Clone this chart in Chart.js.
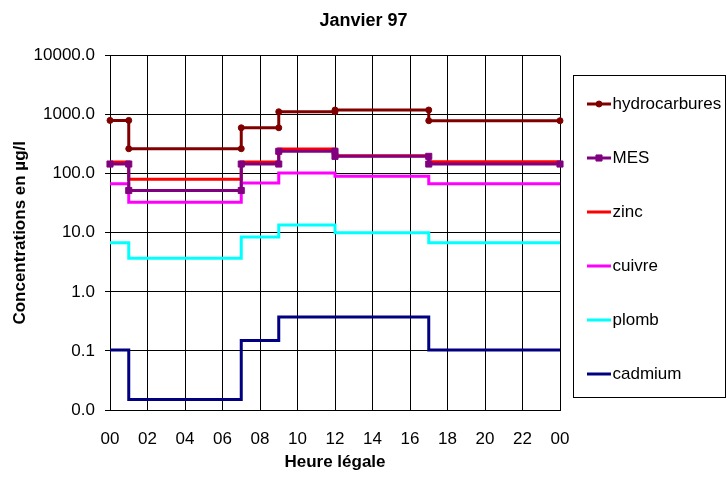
<!DOCTYPE html>
<html>
<head>
<meta charset="utf-8">
<script src="https://cdn.jsdelivr.net/npm/chart.js@4.4.0/dist/chart.umd.min.js"></script>
<style>
    body { margin: 0; background: #fff; }
</style>
</head>
<body>
<canvas id="janvierChart" width="727" height="478"></canvas>
<script>
// heures ou la concentration change de palier
var segmentHours = [0, 1, 7, 9, 12, 17, 24];

// une valeur par palier (µg/l)
var hydrocarbures = [800, 265, 600, 1120, 1200, 790];
var mes = [146, 52, 146, 240, 197, 146];
var zinc = [158, 81, 158, 262, 202, 160];
var cuivre = [68, 33, 70, 103, 91, 68];
var plomb = [6.8, 3.7, 8.5, 13.5, 10.0, 6.8];
var cadmium = [0.104, 0.015, 0.15, 0.377, 0.377, 0.104];

var xTickLabels = ['00', '02', '04', '06', '08', '10', '12', '14', '16', '18', '20', '22', '00'];
var yTickValues = [0.01, 0.1, 1, 10, 100, 1000, 10000];
var yTickLabels = ['0.0', '0.1', '1.0', '10.0', '100.0', '1000.0', '10000.0'];

// coins de la courbe en escalier
function toSteps(values) {
    var pts = [];
    for (var i = 0; i < values.length; i++) {
        pts.push({x: segmentHours[i], y: values[i]});
        pts.push({x: segmentHours[i + 1], y: values[i]});
    }
    return pts;
}

function series(label, values, color, pointStyle, radius) {
    return {
        label: label,
        data: toSteps(values),
        borderColor: color,
        backgroundColor: color,
        borderWidth: 3,
        borderJoinStyle: 'miter',
        pointStyle: pointStyle || 'circle',
        pointRadius: radius || 0,
        pointHoverRadius: radius || 0,
        pointBorderWidth: 1,
        tension: 0,
        clip: false
    };
}

// cadre de la legende + echantillons de trait
var legendFrame = {
    id: 'legendFrame',
    afterDraw: function (chart) {
        var legend = chart.legend;
        var boxes = legend.legendHitBoxes;
        if (!boxes || !boxes.length) return;
        var ctx = chart.ctx;
        var first = boxes[0];
        var last = boxes[boxes.length - 1];
        ctx.save();
        ctx.strokeStyle = '#000';
        ctx.lineWidth = 1;
        var left = Math.round(legend.left + 13) + 0.5;
        var top = Math.round(first.top - 16) + 0.5;
        var bottom = Math.round(last.top + last.height + 9) + 0.5;
        var right = chart.width - 1.5;
        ctx.strokeRect(left, top, right - left, bottom - top);

        chart.data.datasets.forEach(function (ds, i) {
            var b = boxes[i];
            var cy = b.top + b.height / 2;
            ctx.strokeStyle = ds.borderColor;
            ctx.lineWidth = 3;
            ctx.beginPath();
            ctx.moveTo(b.left, cy);
            ctx.lineTo(b.left + 24, cy);
            ctx.stroke();
            if (ds.pointRadius > 0) {
                ctx.fillStyle = ds.backgroundColor;
                ctx.lineWidth = 1;
                Chart.helpers.drawPoint(ctx, {pointStyle: ds.pointStyle, radius: ds.pointRadius, rotation: 0, borderWidth: 1}, b.left + 12, cy);
            }
        });
        ctx.restore();
    }
};

Chart.defaults.font.family = "'Liberation Sans', Arial, sans-serif";
Chart.defaults.color = '#000';

var ctx = document.getElementById('janvierChart').getContext('2d');

var janvierChart = new Chart(ctx, {
    type: 'line',
    data: {
        datasets: [
            series('hydrocarbures', hydrocarbures, '#800000', 'circle', 3),
            series('MES', mes, '#800080', 'rect', 4.3),
            series('zinc', zinc, '#FF0000'),
            series('cuivre', cuivre, '#FF00FF'),
            series('plomb', plomb, '#00FFFF'),
            series('cadmium', cadmium, '#000080')
        ]
    },
    options: {
        responsive: false,
        animation: false,
        layout: { padding: 0 },
        plugins: {
            title: {
                display: true,
                text: 'Janvier 97',
                color: '#000',
                font: { size: 18, weight: 'bold' },
                padding: { top: 10, bottom: 24 }
            },
            legend: {
                position: 'right',
                maxWidth: 167,
                labels: {
                    boxWidth: 17,
                    boxHeight: 27,
                    padding: 27,
                    color: '#000',
                    font: { size: 17 },
                    generateLabels: function (chart) {
                        return Chart.defaults.plugins.legend.labels.generateLabels(chart).map(function (item) {
                            item.fillStyle = 'rgba(0,0,0,0)';
                            item.strokeStyle = 'rgba(0,0,0,0)';
                            item.lineWidth = 0;
                            return item;
                        });
                    }
                }
            },
            tooltip: { enabled: false }
        },
        scales: {
            x: {
                type: 'linear',
                min: 0,
                max: 24,
                afterFit: function (scale) {
                    scale.height = 68;
                },
                ticks: {
                    stepSize: 2,
                    autoSkip: false,
                    maxRotation: 0,
                    padding: 19,
                    font: { size: 17 },
                    callback: function (value, index) {
                        return xTickLabels[index];
                    }
                },
                grid: { color: '#000', drawTicks: false },
                border: { color: '#000' },
                title: {
                    display: true,
                    text: 'Heure légale',
                    font: { size: 17, weight: 'bold' },
                    padding: { top: 3, bottom: 5 }
                }
            },
            y: {
                type: 'logarithmic',
                min: 0.01,
                max: 10000,
                afterFit: function (scale) {
                    scale.width = 110;
                },
                afterBuildTicks: function (scale) {
                    scale.ticks = yTickValues.map(function (v) { return {value: v}; });
                },
                ticks: {
                    autoSkip: false,
                    padding: 10,
                    font: { size: 17 },
                    callback: function (value, index) {
                        return yTickLabels[index];
                    }
                },
                grid: { color: '#000', tickLength: 5 },
                border: { color: '#000' },
                title: {
                    display: true,
                    text: 'Concentrations en µg/l',
                    font: { size: 17, weight: 'bold' },
                    padding: { top: 10, bottom: 3 }
                }
            }
        }
    },
    plugins: [legendFrame]
});
</script>
</body>
</html>
